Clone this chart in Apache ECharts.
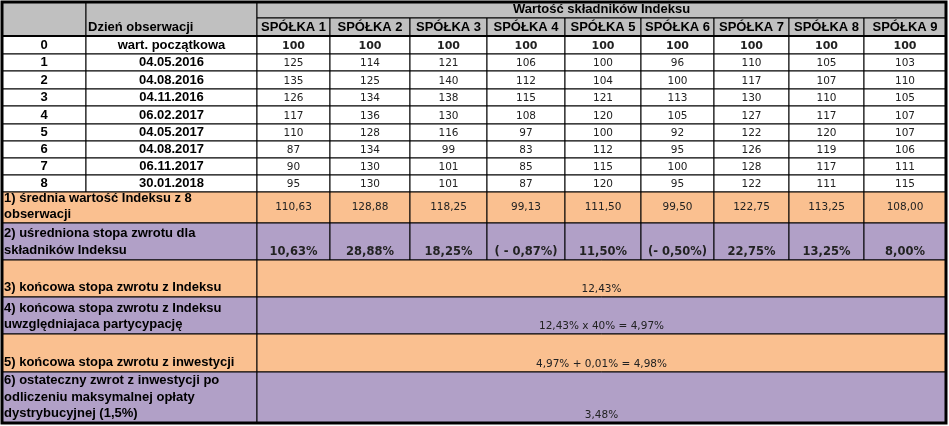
<!DOCTYPE html>
<html><head><meta charset="utf-8">
<script src="https://cdn.jsdelivr.net/npm/echarts@6/dist/echarts.min.js"></script>
<style>html,body{margin:0;padding:0;background:#fff}#c{width:949px;height:426px}</style>
</head><body><div id="c"></div>
<script>
const title = 'Wartość składników Indeksu';
const dayHeader = 'Dzień obserwacji';
const companies = ['SPÓŁKA 1','SPÓŁKA 2','SPÓŁKA 3','SPÓŁKA 4','SPÓŁKA 5','SPÓŁKA 6','SPÓŁKA 7','SPÓŁKA 8','SPÓŁKA 9'];
const obsIdx = ['0','1','2','3','4','5','6','7','8'];
const obsDates = ['wart. początkowa','04.05.2016','04.08.2016','04.11.2016','06.02.2017','04.05.2017','04.08.2017','06.11.2017','30.01.2018'];
const values = [
  [100,100,100,100,100,100,100,100,100],
  [125,114,121,106,100,96,110,105,103],
  [135,125,140,112,104,100,117,107,110],
  [126,134,138,115,121,113,130,110,105],
  [117,136,130,108,120,105,127,117,107],
  [110,128,116,97,100,92,122,120,107],
  [87,134,99,83,112,95,126,119,106],
  [90,130,101,85,115,100,128,117,111],
  [95,130,101,87,120,95,122,111,115]
];
const means = ['110,63','128,88','118,25','99,13','111,50','99,50','122,75','113,25','108,00'];
const returns = ['10,63%','28,88%','18,25%','( - 0,87%)','11,50%','(- 0,50%)','22,75%','13,25%','8,00%'];
const summaryLabels = [
  '1) średnia wartość Indeksu z 8\nobserwacji',
  '2) uśredniona stopa zwrotu dla\nskładników Indeksu',
  '3) końcowa stopa zwrotu z Indeksu',
  '4) końcowa stopa zwrotu z Indeksu\nuwzględniajaca partycypację',
  '5) końcowa stopa zwrotu z inwestycji',
  '6) ostateczny zwrot z inwestycji po\nodliczeniu maksymalnej opłaty\ndystrybucyjnej (1,5%)'
];
const summaryValues = ['12,43%','12,43% x 40% = 4,97%','4,97% + 0,01% = 4,98%','3,48%'];

// layout
const colE = [2,86,257,330,410,487,565,641,714,789,864,946];
const rowE = [2,18,36,54,71,89,106,124,141,158,175,192,223,260,297,334,372,423];
const GRAY='#c0c0c0', ORANGE='#fac090', PURPLE='#b1a0c7', WHITE='#ffffff';
const ARIAL='Liberation Sans, Arial, sans-serif', TAH='DejaVu Sans, Tahoma, sans-serif';

const cells = [];
function cell(c0,c1,r0,r1,text,fill,o){
  cells.push(Object.assign({x0:colE[c0],x1:colE[c1],y0:rowE[r0],y1:rowE[r1],text:text,fill:fill,
    bold:true,font:ARIAL,size:13,align:'center',valign:'bottom',stroke:true},o||{}));
}
// header
cell(0,1,0,2,'',GRAY);
cell(1,2,0,2,dayHeader,GRAY,{align:'left'});
cell(2,11,0,1,title,GRAY);
companies.forEach((c,i)=>cell(2+i,3+i,1,2,c,GRAY,{size:13}));
// observations
obsIdx.forEach((n,r)=>{
  cell(0,1,2+r,3+r,n,WHITE);
  cell(1,2,2+r,3+r,obsDates[r],WHITE);
  values[r].forEach((v,i)=>cell(2+i,3+i,2+r,3+r,String(v),WHITE,{font:TAH,size:r===0?11:10.5,bold:r===0}));
});
// summary
cell(0,2,11,12,summaryLabels[0],ORANGE,{align:'left',lineHeight:16});
means.forEach((v,i)=>cell(2+i,3+i,11,12,v,ORANGE,{font:TAH,size:10.5,bold:false,valign:'middle'}));
cell(0,2,12,13,summaryLabels[1],PURPLE,{align:'left',lineHeight:17});
returns.forEach((v,i)=>cell(2+i,3+i,12,13,v,PURPLE,{font:TAH,size:11.5}));
[[13,ORANGE],[14,PURPLE],[15,ORANGE],[16,PURPLE]].forEach(([r,f],k)=>{
  cell(0,2,r,r+1,summaryLabels[2+k],f,{align:'left',lineHeight:16.5});
  cell(2,11,r,r+1,summaryValues[k],f,{font:TAH,size:10.5,bold:false});
});

const chart = echarts.init(document.getElementById('c'));
chart.setOption({
  animation:false,
  grid:{left:0,right:0,top:0,bottom:0},
  xAxis:{type:'value',min:0,max:949,show:false},
  yAxis:{type:'value',min:0,max:426,inverse:true,show:false},
  series:[{
    type:'custom',
    clip:false,
    data:cells.map(c=>[c.x0,c.y0,c.x1,c.y1]),
    renderItem:function(params,api){
      const c = cells[params.dataIndex];
      const p0 = api.coord([api.value(0),api.value(1)]);
      const p1 = api.coord([api.value(2),api.value(3)]);
      const x = c.align==='left'? p0[0]+2 : (p0[0]+p1[0])/2;
      const y = c.valign==='middle'? (p0[1]+p1[1])/2 : p1[1]-1;
      return {type:'group',children:[
        {type:'rect',shape:{x:p0[0],y:p0[1],width:p1[0]-p0[0],height:p1[1]-p0[1]},
         style:{fill:c.fill,stroke:'#000',lineWidth:1}},
        {type:'text',style:{text:c.text,x:x,y:y,align:c.align,verticalAlign:c.valign,
          fontFamily:c.font,fontSize:c.size,fontWeight:c.bold?'bold':'normal',
          lineHeight:c.lineHeight||c.size+3,fill:c.font===TAH?'#222':'#000'}}
      ]};
    }
  },{
    type:'custom',clip:false,
    data:[[colE[0],rowE[0],colE[colE.length-1],rowE[rowE.length-1]]],
    renderItem:function(params,api){
      const p0=api.coord([api.value(0),api.value(1)]),p1=api.coord([api.value(2),api.value(3)]);
      return {type:'group',children:[
        {type:'rect',shape:{x:p0[0],y:p0[1],width:p1[0]-p0[0],height:p1[1]-p0[1]},
         style:{fill:null,stroke:'#000',lineWidth:3}},
        {type:'line',shape:{x1:p0[0],y1:rowE[2],x2:p1[0],y2:rowE[2]},style:{stroke:'#000',lineWidth:2}}
      ]};
    }
  }]
});
</script></body></html>
